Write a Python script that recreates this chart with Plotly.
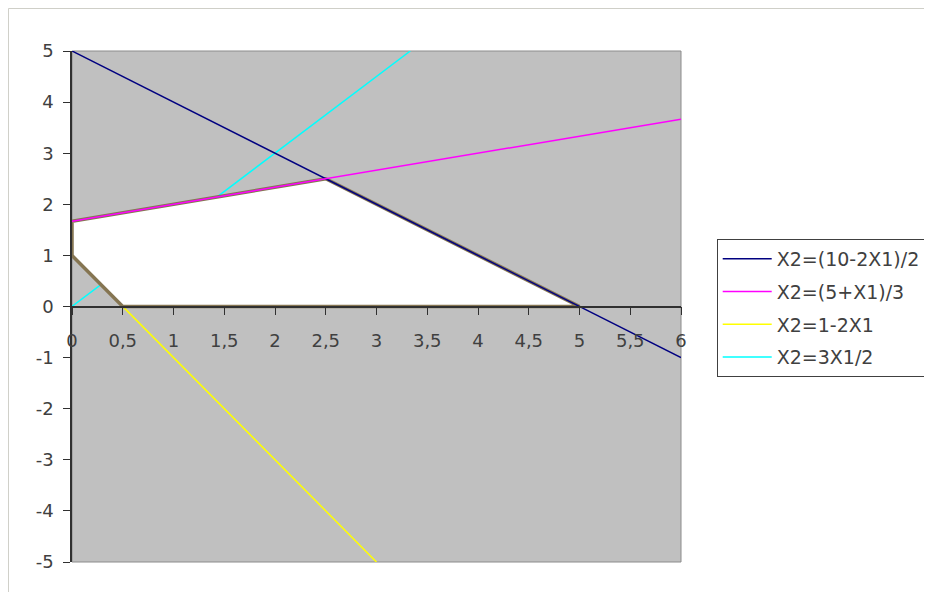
import plotly.graph_objects as go

# lignes de contraintes
navy_x = [0, 6]
navy_y = [5, -1]
magenta_x = [0, 6]
magenta_y = [1.667, 3.667]
yellow_x = [0, 3]
yellow_y = [1, -5]
cyan_x = [0, 3.333]
cyan_y = [0, 5]

# zone admissible
zone_x = [0, 0, 2.5, 5, 0.5, 0]
zone_y = [1, 1.667, 2.5, 0, 0, 1]

names = ["X2=(10-2X1)/2", "X2=(5+X1)/3", "X2=1-2X1", "X2=3X1/2"]

x_ticks = [0, 0.5, 1, 1.5, 2, 2.5, 3, 3.5, 4, 4.5, 5, 5.5, 6]
x_labels = ["0", "0,5", "1", "1,5", "2", "2,5", "3", "3,5", "4", "4,5", "5", "5,5", "6"]
y_ticks = [5, 4, 3, 2, 1, 0, -1, -2, -3, -4, -5]
y_labels = ["5", "4", "3", "2", "1", "0", "-1", "-2", "-3", "-4", "-5"]

font_main = "DejaVu Sans"
txt_color = "#404040"

fig = go.Figure()

# ordre de dessin: cyan et jaune sous la zone blanche
fig.add_trace(go.Scatter(x=cyan_x, y=cyan_y, mode="lines", name=names[3],
                         line=dict(color="#00FFFF", width=1.5), legendrank=4,
                         legendgroup="d"))
fig.add_trace(go.Scatter(x=yellow_x, y=yellow_y, mode="lines", name=names[2],
                         line=dict(color="#FFFF00", width=1.5), legendrank=3,
                         legendgroup="c"))
fig.add_trace(go.Scatter(x=zone_x, y=zone_y, mode="lines", fill="toself",
                         fillcolor="white", line=dict(color="#857552", width=3.5),
                         showlegend=False, hoverinfo="skip"))
fig.add_trace(go.Scatter(x=navy_x, y=navy_y, mode="lines", name=names[0],
                         line=dict(color="#000080", width=1.5), legendrank=1,
                         legendgroup="a"))
fig.add_trace(go.Scatter(x=magenta_x, y=magenta_y, mode="lines", name=names[1],
                         line=dict(color="#FF00FF", width=1.5), legendrank=2,
                         legendgroup="b"))

fig.update_layout(
    width=924,
    height=584,
    margin=dict(l=64, r=251, t=43, b=30),
    plot_bgcolor="#C0C0C0",
    paper_bgcolor="white",
    font=dict(family=font_main, size=18, color=txt_color),
    separators=", ",
    legend=dict(
        xref="container", yref="container",
        x=0.767, y=0.6045, xanchor="left", yanchor="top",
        bordercolor="#404040", borderwidth=1, bgcolor="white",
        font=dict(family=font_main, size=19, color=txt_color),
        tracegroupgap=5, itemwidth=49,
    ),
    xaxis=dict(
        range=[0, 6], anchor="free", position=0.5,
        tickmode="array", tickvals=x_ticks, ticktext=x_labels,
        ticks="outside", ticklen=8, tickcolor="#303030",
        showline=True, linecolor="#303030", linewidth=1.5,
        showgrid=False, zeroline=False, ticklabelstandoff=10,
    ),
    yaxis=dict(
        range=[-5, 5],
        tickmode="array", tickvals=y_ticks, ticktext=y_labels,
        ticks="outside", ticklen=7, tickcolor="#303030",
        showline=True, linecolor="#303030", linewidth=1.5,
        showgrid=False, zeroline=False, ticklabelstandoff=6,
    ),
    shapes=[
        # cadre de la zone de tracé
        dict(type="rect", xref="paper", yref="paper", x0=0, y0=0, x1=1, y1=1,
             line=dict(color="#8c8c8c", width=1), layer="below"),
        # cadre du graphique
        dict(type="rect", xref="paper", yref="paper", x0=-0.1043, y0=-0.2,
             x1=1.6, y1=1.0832, line=dict(color="#cfcfc8", width=1),
             layer="below"),
    ],
)

fig.write_html("out.html")
